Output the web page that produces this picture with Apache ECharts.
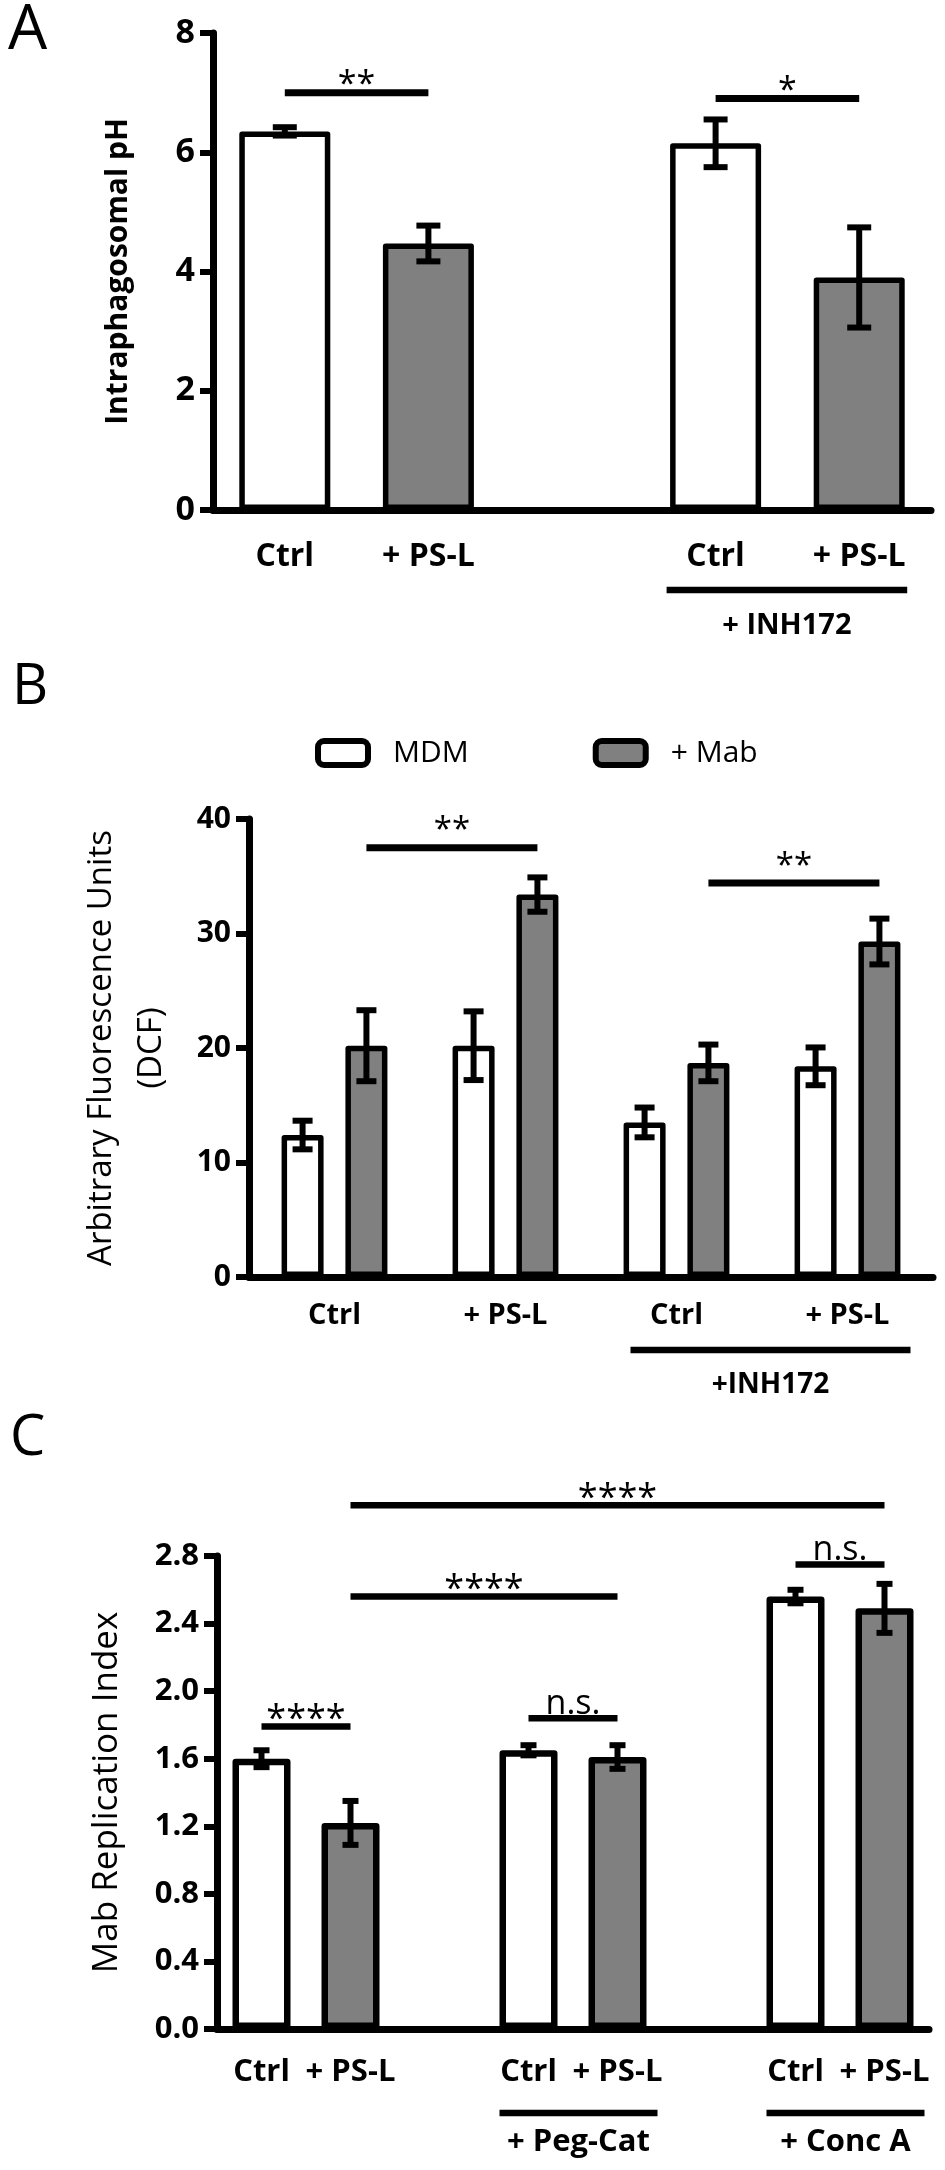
<!DOCTYPE html>
<html>
<head>
<meta charset="utf-8">
<title>Intraphagosomal pH / DCF / Mab replication</title>
<script src="https://cdn.jsdelivr.net/npm/echarts@6/dist/echarts.min.js"></script>
<style>
  html, body { margin: 0; padding: 0; background: #fff; }
  .chart { width: 945px; height: 2170px; }
</style>
</head>
<body>
<div class="chart"></div>
<script>
// A: 吞噬体 pH（空字符串是两组之间的空位）
var catsA = ['Ctrl', '+ PS-L', '', 'Ctrl', '+ PS-L'];
var phA = [6.35, 4.47, null, 6.15, 3.90];
var phErrA = [0.07, 0.30, null, 0.40, 0.84];
var ticksA = [0, 2, 4, 6, 8];

// B: DCF 荧光
var catsB = ['Ctrl', '+ PS-L', 'Ctrl', '+ PS-L'];
var namesB = ['MDM', '+ Mab'];
var mdmB = [12.4, 20.2, 13.5, 18.4];
var mdmErrB = [1.25, 3.0, 1.3, 1.65];
var mabB = [20.2, 33.4, 18.7, 29.3];
var mabErrB = [3.1, 1.5, 1.6, 2.0];
var ticksB = [0, 10, 20, 30, 40];

// C: Mab 复制指数
var catsC = ['Ctrl', '+ PS-L', '', 'Ctrl', '+ PS-L', '', 'Ctrl', '+ PS-L'];
var repC = [1.60, 1.22, null, 1.65, 1.61, null, 2.56, 2.49];
var repErrC = [0.05, 0.13, null, 0.03, 0.07, null, 0.04, 0.145];
var ticksC = [0, 0.4, 0.8, 1.2, 1.6, 2.0, 2.4, 2.8];

// 显著性标注 [起始柱, 结束柱, 高度, 文字]
var sigA = [[0, 1, 7.0, '**'], [3, 4, 6.9, '*']];
// B: [起始组, 结束组, 系列, 高度, 文字]
var sigB = [[0, 1, 1, 37.5, '**'], [2, 3, 1, 34.4, '**']];
var sigC = [[0, 1, 1.79, '****'], [3, 4, 1.84, 'n.s.'], [6, 7, 2.75, 'n.s.'],
            [1, 4, 2.56, '****'], [1, 7, 3.10, '****']];

// 分组下划线 [起始, 结束, 文字]
var groupA = [[3, 4, '+ INH172']];
var groupB = [[2, 3, '+INH172']];
var groupC = [[3, 4, '+ Peg-Cat'], [6, 7, '+ Conc A']];

(function() {
  var FONT = 'Open Sans';
  var WHITE = '#ffffff';
  var GREY = '#808080';
  // 柱宽
  var BW_A = 91, BW_B = 42, BW_C = 58;
  var GAP_B = 0.52;
  var SHIFT_B = BW_B * (1 + GAP_B) / 2;

  function fillOf(label) {
    return label === 'Ctrl' ? WHITE : GREY;
  }

  function barData(cats, vals) {
    return vals.map(function(v, i) {
      if (v == null) return '-';
      return { value: v, itemStyle: { color: fillOf(cats[i]) } };
    });
  }

  // 误差线
  function errSeries(gi, vals, errs, shift, cap, lw) {
    var data = [];
    vals.forEach(function(v, i) {
      if (v != null) data.push([i, v, errs[i]]);
    });
    return {
      type: 'custom',
      xAxisIndex: gi,
      yAxisIndex: gi,
      silent: true,
      clip: false,
      z: 5,
      data: data,
      renderItem: function(params, api) {
        var top = api.coord([api.value(0), api.value(1) + api.value(2)]);
        var bot = api.coord([api.value(0), api.value(1) - api.value(2)]);
        var x = top[0] + shift;
        var st = { stroke: '#000', lineWidth: lw };
        return {
          type: 'group',
          children: [
            { type: 'line', shape: { x1: x, y1: top[1], x2: x, y2: bot[1] }, style: st },
            { type: 'line', shape: { x1: x - cap / 2, y1: top[1], x2: x + cap / 2, y2: top[1] }, style: st },
            { type: 'line', shape: { x1: x - cap / 2, y1: bot[1], x2: x + cap / 2, y2: bot[1] }, style: st }
          ]
        };
      }
    };
  }

  // 显著性横线 + 星号
  function sigSeries(gi, list, xOf, cfg) {
    return {
      type: 'custom',
      xAxisIndex: gi,
      yAxisIndex: gi,
      silent: true,
      clip: false,
      z: 6,
      data: list.map(function(s, i) { return [i, 0]; }),
      renderItem: function(params, api) {
        var s = list[params.dataIndex];
        var p = xOf(api, s);
        var x1 = p[0], x2 = p[1];
        var y = api.coord([0, p[2]])[1];
        var isNs = p[3] === 'n.s.';
        var ty = isNs ? y - cfg.nsGap : y - cfg.starGap + 0.28 * cfg.starSize;
        return {
          type: 'group',
          children: [
            { type: 'line', shape: { x1: x1, y1: y, x2: x2, y2: y },
              style: { stroke: '#000', lineWidth: cfg.lw } },
            { type: 'text', style: {
                text: p[3], x: (x1 + x2) / 2, y: ty, align: 'center', verticalAlign: 'middle',
                fontFamily: FONT, fontSize: isNs ? cfg.nsSize : cfg.starSize, fill: '#000' } }
          ]
        };
      }
    };
  }

  // 分组下划线
  function groupSeries(gi, list, cfg) {
    return {
      type: 'custom',
      xAxisIndex: gi,
      yAxisIndex: gi,
      silent: true,
      clip: false,
      data: list.map(function(g, i) { return [i, 0]; }),
      renderItem: function(params, api) {
        var g = list[params.dataIndex];
        var a = api.coord([g[0], 0]);
        var b = api.coord([g[1], 0]);
        var x1 = a[0] - cfg.padL, x2 = b[0] + cfg.padR;
        var base = a[1];
        return {
          type: 'group',
          children: [
            { type: 'line', shape: { x1: x1, y1: base + cfg.lineOff, x2: x2, y2: base + cfg.lineOff },
              style: { stroke: '#000', lineWidth: 6.5 } },
            { type: 'text', style: {
                text: g[2], x: (x1 + x2) / 2, y: base + cfg.textOff, align: 'center', verticalAlign: 'middle',
                fontFamily: FONT, fontWeight: 'bold', fontSize: cfg.size, fill: '#000' } }
          ]
        };
      }
    };
  }

  function xAxisOf(gi, cats, size, margin) {
    return {
      gridIndex: gi,
      type: 'category',
      data: cats,
      axisTick: { show: false },
      axisLine: { lineStyle: { color: '#000', width: 7 } },
      axisLabel: { interval: 0, color: '#000', fontFamily: FONT, fontWeight: 'bold',
                   fontSize: size, margin: margin }
    };
  }

  function yAxisOf(gi, ticks, size, fmt, name, nameGap, nameStyle) {
    return {
      gridIndex: gi,
      type: 'value',
      min: ticks[0],
      max: ticks[ticks.length - 1],
      interval: ticks[1] - ticks[0],
      splitLine: { show: false },
      axisLine: { show: true, lineStyle: { color: '#000', width: 7 } },
      axisTick: { show: true, length: 13, lineStyle: { color: '#000', width: 6 } },
      axisLabel: { color: '#000', fontFamily: FONT, fontWeight: 'bold', fontSize: size,
                   margin: 18, formatter: fmt },
      name: name,
      nameLocation: 'middle',
      nameGap: nameGap,
      nameTextStyle: nameStyle
    };
  }

  var myChart = echarts.init(document.querySelector('.chart'));
  var option = {
    backgroundColor: '#fff',
    animation: false,
    grid: [
      { left: 213, top: 33, width: 718, height: 477 },
      { left: 249, top: 819, width: 684, height: 458 },
      { left: 217, top: 1556, width: 712, height: 473 }
    ],
    legend: {
      data: namesB,
      left: 315,
      top: 738,
      padding: 0,
      icon: 'roundRect',
      itemWidth: 50,
      itemHeight: 24,
      itemGap: 124,
      itemStyle: { borderColor: '#000', borderWidth: 6 },
      textStyle: { color: '#000', fontFamily: FONT, fontSize: 30, padding: [0, 0, 0, 20] }
    },
    // 面板字母
    graphic: [
      { type: 'text', left: 8, top: 0, style: { text: 'A', fontFamily: FONT, fontSize: 62, fill: '#000' } },
      { type: 'text', left: 12, top: 660, style: { text: 'B', fontFamily: FONT, fontSize: 56, fill: '#000' } },
      { type: 'text', left: 10, top: 1411, style: { text: 'C', fontFamily: FONT, fontSize: 56, fill: '#000' } }
    ],
    xAxis: [
      xAxisOf(0, catsA, 32, 31),
      xAxisOf(1, catsB, 29, 24),
      xAxisOf(2, catsC, 31, 28)
    ],
    yAxis: [
      yAxisOf(0, ticksA, 34, null, 'Intraphagosomal pH', 80,
              { color: '#000', fontFamily: FONT, fontWeight: 'bold', fontSize: 30 }),
      yAxisOf(1, ticksB, 30, null, 'Arbitrary Fluorescence Units\n(DCF)', 72,
              { color: '#000', fontFamily: FONT, fontSize: 33, lineHeight: 50 }),
      yAxisOf(2, ticksC, 31, function(v) { return v.toFixed(1); }, 'Mab Replication Index', 92,
              { color: '#000', fontFamily: FONT, fontSize: 35 })
    ],
    series: [
      // A
      {
        type: 'bar', xAxisIndex: 0, yAxisIndex: 0, barWidth: BW_A, silent: true,
        itemStyle: { borderColor: '#000', borderWidth: 5.5, borderJoin: 'round' },
        data: barData(catsA, phA)
      },
      errSeries(0, phA, phErrA, 0, 24, 6),
      sigSeries(0, sigA, function(api, s) {
        return [api.coord([s[0], 0])[0], api.coord([s[1], 0])[0], s[2], s[3]];
      }, { lw: 7, starGap: 17, starSize: 34, nsGap: 14, nsSize: 34 }),
      groupSeries(0, groupA, { padL: 49, padR: 48, lineOff: 80, textOff: 116, size: 29 }),

      // B
      {
        name: namesB[0], type: 'bar', xAxisIndex: 1, yAxisIndex: 1, barWidth: BW_B,
        barGap: (GAP_B * 100) + '%', silent: true,
        itemStyle: { color: WHITE, borderColor: '#000', borderWidth: 5.5, borderJoin: 'round' },
        data: mdmB
      },
      {
        name: namesB[1], type: 'bar', xAxisIndex: 1, yAxisIndex: 1, barWidth: BW_B,
        barGap: (GAP_B * 100) + '%', silent: true,
        itemStyle: { color: GREY, borderColor: '#000', borderWidth: 5.5, borderJoin: 'round' },
        data: mabB
      },
      errSeries(1, mdmB, mdmErrB, -SHIFT_B, 20, 6),
      errSeries(1, mabB, mabErrB, SHIFT_B, 20, 6),
      sigSeries(1, sigB, function(api, s) {
        var off = s[2] ? SHIFT_B : -SHIFT_B;
        return [api.coord([s[0], 0])[0] + off, api.coord([s[1], 0])[0] + off, s[3], s[4]];
      }, { lw: 7, starGap: 26, starSize: 33, nsGap: 14, nsSize: 33 }),
      groupSeries(1, groupB, { padL: 46, padR: 63, lineOff: 73, textOff: 108, size: 28 }),

      // C
      {
        type: 'bar', xAxisIndex: 2, yAxisIndex: 2, barWidth: BW_C, silent: true,
        itemStyle: { borderColor: '#000', borderWidth: 6.5, borderJoin: 'round' },
        data: barData(catsC, repC)
      },
      errSeries(2, repC, repErrC, 0, 16, 6),
      sigSeries(2, sigC, function(api, s) {
        return [api.coord([s[0], 0])[0], api.coord([s[1], 0])[0], s[2], s[3]];
      }, { lw: 6.5, starGap: 17, starSize: 36, nsGap: 14, nsSize: 34 }),
      groupSeries(2, groupC, { padL: 29, padR: 40, lineOff: 84, textOff: 113, size: 31 })
    ]
  };
  myChart.setOption(option);
  window.addEventListener('resize', function() {
    myChart.resize();
  });
})();
</script>
</body>
</html>
